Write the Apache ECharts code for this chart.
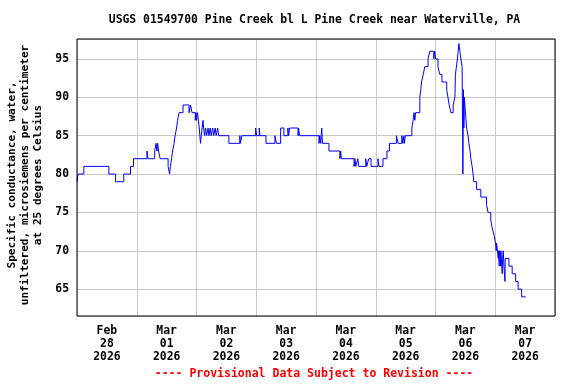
<!DOCTYPE html>
<html>
<head>
<meta charset="utf-8">
<script src="https://cdn.jsdelivr.net/npm/echarts@6/dist/echarts.min.js"></script>
<style>
html,body{margin:0;padding:0;background:#fff;}
#chart{width:576px;height:384px;}
</style>
</head>
<body>
<div id="chart"></div>
<script>
// Hours since 2026-02-28 00:00 at which the reading changes
const hours = [0, 0.4, 2.75, 12.8, 15.5, 18.8, 21.5, 22.7, 28.1, 28.5, 31.2, 31.75, 32.1, 32.4, 32.75, 33.4, 36.6, 37.2, 37.5, 38.0,
  38.4, 39.0, 39.4, 40.0, 40.4, 41.0, 42.6, 45.0, 45.6, 46.2, 47.5, 47.75, 48.0, 48.4, 49.1, 49.6, 49.9, 50.25, 50.65, 50.85,
  51.25, 51.65, 52.05, 52.65, 53.0, 53.5, 53.9, 54.5, 54.9, 55.5, 55.9, 56.5, 56.9, 61.0, 65.4, 65.6, 66.25, 71.75, 72.15, 73.2,
  73.5, 75.9, 79.5, 80.1, 81.8, 83.1, 84.7, 85.0, 85.4, 88.8, 89.0, 89.4, 97.2, 97.5, 97.9, 98.3, 98.6, 101.2, 105.6, 105.9,
  106.2, 111.3, 111.6, 112.0, 112.8, 113.2, 116.0, 116.4, 117.2, 118.1, 120.9, 121.3, 122.9, 124.5, 125.5, 128.3, 129.0, 130.45, 130.9, 131.3,
  131.5, 131.9, 134.5, 135.0, 135.4, 135.7, 136.0, 137.7, 138.1, 138.4, 139.1, 139.7, 141.0, 141.7, 143.3, 143.7, 144.0, 145.0, 145.7, 146.6,
  148.5, 149.0, 149.5, 150.2, 151.1, 151.8, 152.0, 152.8, 153.1, 153.4, 154.2, 154.7, 155.0, 155.2, 155.4, 155.6, 155.8, 156.5, 157.1, 157.4,
  157.9, 158.2, 158.7, 159.1, 159.4, 160.5, 162.2, 164.5, 165.1, 166.2, 166.75, 167.55, 168.1, 168.4, 168.5, 168.9, 169.2, 169.35, 169.6, 169.75,
  170.0, 170.15, 170.25, 170.8, 170.95, 171.2, 171.5, 171.9, 172.0, 173.5, 174.8, 176.2, 177.2, 178.6, 180.2];
// Specific conductance (microsiemens per cm at 25 C)
const values = [79, 80, 81, 80, 79, 80, 81, 82, 83, 82, 83, 84, 83, 84, 83, 82, 81, 80, 81, 82,
  83, 84, 85, 86, 87, 88, 89, 88, 89, 88, 87, 88, 87, 88, 86, 84, 85, 86, 87, 86,
  85, 86, 85, 86, 85, 86, 85, 86, 85, 86, 85, 86, 85, 84, 85, 84, 85, 86, 85, 86,
  85, 84, 85, 84, 86, 85, 86, 85, 86, 85, 86, 85, 84, 85, 84, 86, 84, 83, 82, 83,
  82, 81, 82, 81, 82, 81, 82, 81, 82, 81, 82, 81, 82, 83, 84, 85, 84, 85, 84, 85,
  84, 85, 86, 87, 88, 87, 88, 90, 91, 92, 93, 94, 95, 96, 95, 96, 95, 94, 93, 92,
  91, 90, 89, 88, 89, 90, 93, 95, 96, 97, 95, 94, 80, 91, 86, 90, 89, 86, 85, 84,
  83, 82, 81, 80, 79, 78, 77, 76, 75, 74, 73, 72, 71, 70, 71, 70, 69, 70, 68, 70,
  69, 68, 70, 67, 69, 70, 68, 66, 69, 68, 67, 66, 65, 64, 64];
const dayMonths = ['Feb', 'Mar', 'Mar', 'Mar', 'Mar', 'Mar', 'Mar', 'Mar'];
const dayNumbers = ['28', '01', '02', '03', '04', '05', '06', '07'];
const dayYears = ['2026', '2026', '2026', '2026', '2026', '2026', '2026', '2026'];
const yTicks = [65, 70, 75, 80, 85, 90, 95];

const titleText = 'USGS 01549700 Pine Creek bl L Pine Creek near Waterville, PA';
const yName = 'Specific conductance, water,\nunfiltered, microsiemens per centimeter\nat 25 degrees Celsius';
const footer = '---- Provisional Data Subject to Revision ----';

const FONT = '"DejaVu Sans Mono", monospace';
const chart = echarts.init(document.getElementById('chart'), null, {renderer: 'canvas'});
const data = hours.map((h, i) => [h, values[i]]);
const dayCats = dayMonths.map((m, i) => m + '\n' + dayNumbers[i] + '\n' + dayYears[i]);

chart.setOption({
  animation: false,
  backgroundColor: '#fff',
  grid: {left: 77, right: 21, top: 39, bottom: 68, show: true, borderColor: '#000', borderWidth: 1, backgroundColor: 'transparent', z: 5},
  xAxis: [
    {type: 'value', min: 0, max: 192, interval: 24,
      axisLine: {show: false}, axisTick: {show: false}, axisLabel: {show: false},
      splitLine: {show: true, lineStyle: {color: '#c8c8c8', width: 1}}},
    {type: 'category', data: dayCats, position: 'bottom', boundaryGap: true,
      axisLine: {show: false}, axisTick: {show: false}, splitLine: {show: false},
      axisLabel: {margin: 9, color: '#000', fontFamily: FONT, fontWeight: 'bold', fontSize: 11.4, lineHeight: 12.7, interval: 0}}
  ],
  yAxis: {type: 'value', min: 61.5, max: 97.6, splitNumber: 7, minInterval: 5, maxInterval: 5,
    axisLine: {show: false}, axisTick: {show: false},
    axisLabel: {margin: 8, color: '#000', fontFamily: FONT, fontWeight: 'bold', fontSize: 11.4,
      formatter: v => (yTicks.indexOf(v) >= 0 ? String(v) : '')},
    splitLine: {show: true, lineStyle: {color: '#c8c8c8', width: 1}}},
  series: [{
    type: 'line', xAxisIndex: 0, data: data, step: 'end', showSymbol: false, symbol: 'none',
    lineStyle: {color: '#0000ff', width: 1}, z: 3
  }],
  graphic: [
    {type: 'text', left: null, x: 314.5, y: 20, style: {text: titleText, fill: '#000', font: 'bold 11.4px ' + FONT, textAlign: 'center', textVerticalAlign: 'middle'}},
    {type: 'text', x: 25, y: 175, rotation: Math.PI / 2, style: {text: yName, fill: '#000', font: 'bold 11.1px ' + FONT, textAlign: 'center', textVerticalAlign: 'middle', lineHeight: 13}},
    {type: 'text', x: 314, y: 374.5, style: {text: footer, fill: '#ff0000', font: 'bold 11.5px ' + FONT, textAlign: 'center', textVerticalAlign: 'middle'}}
  ]
});
</script>
</body>
</html>
